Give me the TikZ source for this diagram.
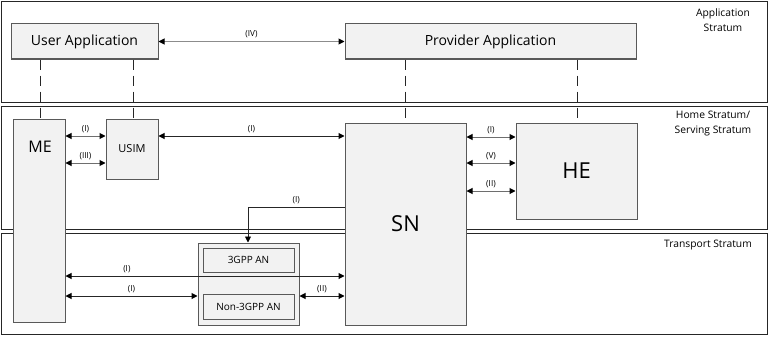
\documentclass[tikz,border=0pt]{standalone}
\usepackage{fontspec}
\setmainfont{Open Sans}
\usetikzlibrary{arrows.meta}
\definecolor{boxfill}{HTML}{F2F2F2}
\definecolor{boxline}{HTML}{595959}
\definecolor{arrline}{HTML}{6E6E6E}
\begin{document}
\begin{tikzpicture}[x=1pt,y=-1pt,
  stratum/.style={draw=black!85,line width=0.9pt},
  blk/.style={draw=boxline,fill=boxfill,line width=1pt,inner sep=0pt,anchor=center},
  conn/.style={draw=arrline,line width=1pt,{Triangle[length=6pt,width=6pt,color=black]}-{Triangle[length=6pt,width=6pt,color=black]}},
  oneway/.style={draw=black!85,line width=0.9pt,-{Triangle[length=6pt,width=6pt,color=black]}},
  dsh/.style={draw=black!85,line width=0.9pt,dash pattern=on 10pt off 6pt},
  lbl/.style={font=\fontsize{8.3}{9}\selectfont,inner sep=0pt},
  strat/.style={font=\fontsize{10.3}{15.5}\selectfont,align=center,inner sep=0pt}]
\useasboundingbox (0,0) rectangle (770,337);
% strata
\draw[stratum] (1,1) rectangle (767,102);
\draw[stratum] (1,106) rectangle (767,229);
\draw[stratum] (1,233) rectangle (767,334);
\node[strat] (sa) at (723,20) {Application\\Stratum};
\node[strat] (sh) at (713,123.5) {Home Stratum/\\Serving Stratum};
\node[strat] (st) at (708,245) {Transport Stratum};
% boxes
\node[blk,minimum width=147pt,minimum height=35pt,font=\fontsize{14}{16}\selectfont] (UA) at (84.5,41.5) {User Application};
\node[blk,minimum width=291pt,minimum height=35pt,font=\fontsize{14}{16}\selectfont] (PA) at (490.5,41.5) {Provider Application};
\node[blk,minimum width=52pt,minimum height=203pt] (ME) at (39,220.5) {};
\node[font=\fontsize{16}{18}\selectfont,inner sep=0pt] (MEt) at (40,147) {ME};
\node[blk,minimum width=52pt,minimum height=60pt,font=\fontsize{11}{12}\selectfont] (USIM) at (132,149) {USIM};
\node[blk,minimum width=121pt,minimum height=202pt,font=\fontsize{22}{24}\selectfont] (SN) at (405.5,224) {SN};
\node[blk,minimum width=121pt,minimum height=96pt,font=\fontsize{22}{24}\selectfont] (HE) at (576.5,171) {HE};
\node[blk,minimum width=101pt,minimum height=82pt] (AN) at (248.5,284) {};
\node[blk,minimum width=91pt,minimum height=24pt,font=\fontsize{10}{12}\selectfont] (A3) at (248.5,260) {3GPP AN};
\node[blk,minimum width=91pt,minimum height=25pt,font=\fontsize{10}{12}\selectfont] (AN3) at (248.5,306.5) {Non-3GPP AN};
% dashed
\draw[dsh] (UA.south -| 40,0) -- (ME.north -| 40,0);
\draw[dsh] (UA.south -| 133,0) -- (USIM.north -| 133,0);
\draw[dsh] (PA.south -| 405,0) -- (SN.north -| 405,0);
\draw[dsh] (PA.south -| 577,0) -- (HE.north -| 577,0);
% connectors
\draw[conn,draw=black!45] (UA.east) -- node[lbl,above=3pt] (l1) {(IV)} (PA.west);
\draw[conn] (ME.east |- 0,136) -- node[lbl,above=3pt] (l2) {(I)} (USIM.west |- 0,136);
\draw[conn] (ME.east |- 0,163) -- node[lbl,above=3pt] (l3) {(III)} (USIM.west |- 0,163);
\draw[conn,draw=black!85] (USIM.east |- 0,136) -- node[lbl,above=3pt] (l4) {(I)} (SN.west |- 0,136);
\draw[conn] (SN.east |- 0,137) -- node[lbl,above=3pt] (l5) {(I)} (HE.west |- 0,137);
\draw[conn] (SN.east |- 0,163) -- node[lbl,above=3pt] (l6) {(V)} (HE.west |- 0,163);
\draw[conn] (SN.east |- 0,191) -- node[lbl,above=3pt] (l7) {(II)} (HE.west |- 0,191);
\draw[oneway] (SN.west |- 0,207) -- node[lbl,above=3pt,pos=0.5] (l8) {(I)} (248,207) -- (AN.north -| 248,0);
\draw[conn,draw=black!85] (ME.east |- 0,276) -- node[lbl,above=3pt,pos=0.22] (l9) {(I)} (SN.west |- 0,276);
\draw[conn,draw=black!85] (ME.east |- 0,296) -- node[lbl,above=3pt] (l10) {(I)} (AN.west |- 0,296);
\draw[conn,draw=black!85] (AN.east |- 0,296) -- node[lbl,above=3pt] (l11) {(II)} (SN.west |- 0,296);
\end{tikzpicture}
\end{document}
